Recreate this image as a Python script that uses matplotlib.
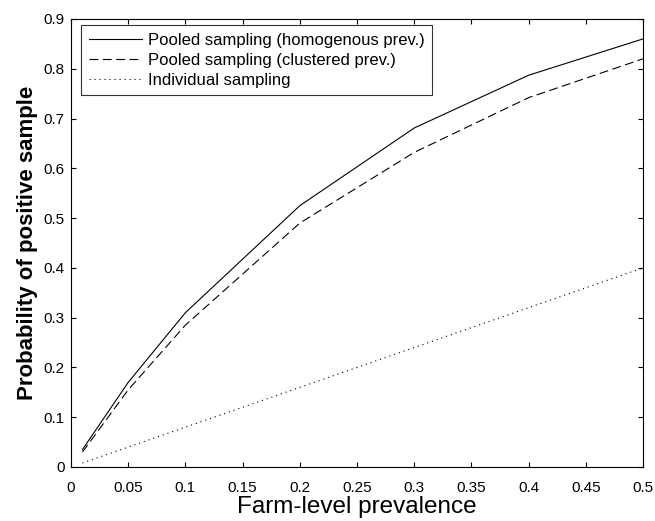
import numpy as np
import matplotlib
matplotlib.use("Agg")
import matplotlib.pyplot as plt

plt.rcParams['font.family'] = ['Liberation Sans', 'DejaVu Sans']

# farm-level prevalence values
prev = [0.01, 0.05, 0.1, 0.2, 0.3, 0.4, 0.5]
# probability of a positive sample
pooled_homog = [0.035, 0.17, 0.31, 0.525, 0.681, 0.787, 0.86]
pooled_clust = [0.03, 0.155, 0.285, 0.49, 0.632, 0.742, 0.82]
individual = [0.008, 0.04, 0.08, 0.16, 0.24, 0.32, 0.40]

fig = plt.figure(figsize=(6.55, 5.21), dpi=100)
ax = fig.add_axes([71/655, 1-467/521, 572/655, 448/521])

ax.plot(prev, pooled_homog, color="k", lw=0.8, ls="-",
        label="Pooled sampling (homogenous prev.)")
ax.plot(prev, pooled_clust, color="k", lw=0.8, ls=(0, (8, 4)),
        label="Pooled sampling (clustered prev.)")
ax.plot(prev, individual, color="k", lw=0.8, ls=(0, (1, 3.5)),
        label="Individual sampling")

ax.set_xlim(0, 0.5)
ax.set_ylim(0, 0.9)
ax.set_xticks(np.arange(0, 0.501, 0.05))
ax.set_yticks(np.arange(0, 0.901, 0.1))
ax.set_xticklabels(["0", "0.05", "0.1", "0.15", "0.2", "0.25", "0.3", "0.35", "0.4", "0.45", "0.5"])
ax.set_yticklabels(["0", "0.1", "0.2", "0.3", "0.4", "0.5", "0.6", "0.7", "0.8", "0.9"])
ax.tick_params(direction="in", top=True, right=True, length=3.6, labelsize=11, width=0.8)
ax.tick_params(axis="x", pad=10)
ax.tick_params(axis="y", pad=4.5)
for s in ax.spines.values():
    s.set_linewidth(0.8)

ax.set_xlabel("Farm-level prevalence", fontsize=17.5, labelpad=1)
ax.set_ylabel("Probability of positive sample", fontsize=16, fontweight="bold", labelpad=4)

leg = ax.legend(loc="upper left", bbox_to_anchor=(10/572, 1-6/448), borderaxespad=0,
                fontsize=12, handlelength=3.2, frameon=True,
                fancybox=False, edgecolor="k", borderpad=0.45, labelspacing=0.3,
                handletextpad=0.35)
leg.get_frame().set_linewidth(0.8)

plt.savefig("out.png", dpi=100)
